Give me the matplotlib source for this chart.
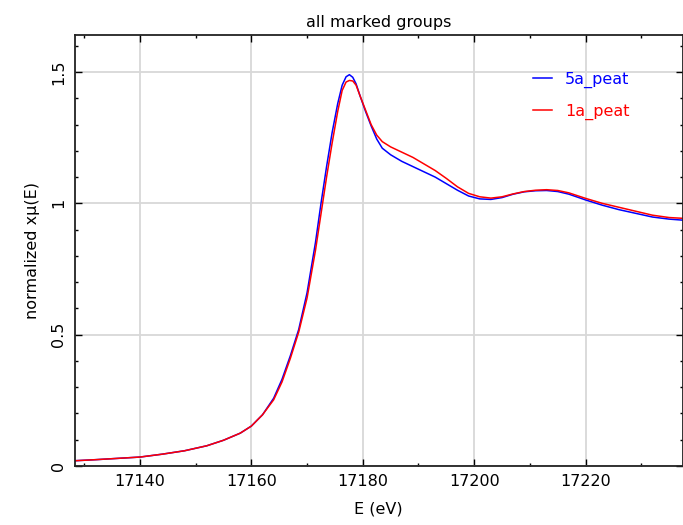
import matplotlib
matplotlib.use("Agg")
import matplotlib.pyplot as plt
from matplotlib.ticker import MultipleLocator, FixedLocator

energy = [17128.3, 17132, 17136, 17140, 17144, 17148, 17152, 17155, 17158, 17160,
          17162, 17164, 17165.5, 17167, 17168.5, 17170, 17171.5, 17172.5, 17173.5,
          17174.5, 17175.5, 17176.3, 17177, 17177.6, 17178.2, 17178.8, 17179.5,
          17180.5, 17181.5, 17182.5, 17183.5, 17185, 17187, 17189, 17191, 17193,
          17195, 17197, 17199, 17201, 17203, 17205, 17207, 17209, 17211, 17213,
          17215, 17217, 17220, 17223, 17226, 17229, 17232, 17235, 17237.5]

mu_5a = [0.020, 0.024, 0.029, 0.034, 0.045, 0.058, 0.077, 0.098, 0.125, 0.152,
         0.195, 0.258, 0.33, 0.42, 0.52, 0.66, 0.85, 1.00, 1.14,
         1.27, 1.38, 1.45, 1.482, 1.490, 1.48, 1.455, 1.41,
         1.35, 1.295, 1.245, 1.21, 1.185, 1.16, 1.14, 1.12, 1.10,
         1.075, 1.05, 1.028, 1.017, 1.015, 1.022, 1.035, 1.044, 1.048, 1.049,
         1.045, 1.035, 1.013, 0.993, 0.976, 0.962, 0.948, 0.940, 0.936]

mu_1a = [0.020, 0.024, 0.029, 0.034, 0.045, 0.058, 0.077, 0.098, 0.125, 0.152,
         0.195, 0.252, 0.32, 0.41, 0.51, 0.64, 0.82, 0.96, 1.10,
         1.23, 1.35, 1.43, 1.462, 1.468, 1.466, 1.45, 1.41,
         1.355, 1.30, 1.26, 1.235, 1.215, 1.195, 1.175, 1.15, 1.125,
         1.095, 1.063, 1.038, 1.025, 1.02, 1.025, 1.036, 1.045, 1.05, 1.052,
         1.049, 1.04, 1.019, 1.0, 0.985, 0.97, 0.955, 0.946, 0.943]

series_labels = ["5a_peat", "1a_peat"]
series_colors = ["#0000ff", "#ff0000"]
x_ticks = [17140, 17160, 17180, 17200, 17220]
y_ticks = [0, 0.5, 1, 1.5]
y_tick_labels = ["0", "0.5", "1", "1.5"]

FS = 11.5
plt.rcParams['font.family'] = ['DejaVu Sans']
fig = plt.figure(figsize=(6.83, 5.25), dpi=100)
ax = fig.add_axes([0.1095, 0.1124, 0.8898, 0.8204])

lines = []
for mu, lab, col in zip([mu_5a, mu_1a], series_labels, series_colors):
    l, = ax.plot(energy, mu, color=col, lw=1.1, label=lab)
    lines.append(l)

ax.set_xlim(17128.3, 17237.4)
ax.set_ylim(0, 1.64)
ax.xaxis.set_major_locator(FixedLocator(x_ticks))
ax.xaxis.set_minor_locator(MultipleLocator(10))
ax.yaxis.set_major_locator(FixedLocator(y_ticks))
ax.set_yticklabels(y_tick_labels, rotation=90, va='center')
ax.yaxis.set_minor_locator(MultipleLocator(0.1))
ax.tick_params(which='both', direction='in', top=True, right=True, labelsize=FS,
               colors='black', pad=6)
ax.tick_params(which='major', length=5, width=1)
ax.tick_params(which='minor', length=2.5, width=1)
ax.grid(which='major', color='#d8d8d8', lw=1.3)
ax.set_axisbelow(True)
for s in ax.spines.values():
    s.set_linewidth(1.3)
    s.set_color('#222222')

ax.set_title("all marked groups", fontsize=FS, pad=6)
ax.set_xlabel("E (eV)", fontsize=FS, labelpad=9)
ax.set_ylabel("normalized xμ(E)", fontsize=FS, labelpad=8)

leg = ax.legend(handles=lines, loc='upper left', bbox_to_anchor=(0.754, 0.916),
                frameon=False, fontsize=FS, handlelength=1.2, handletextpad=0.8,
                labelspacing=1.02, borderpad=0, borderaxespad=0)
for t, c in zip(leg.get_texts(), series_colors):
    t.set_color(c)

fig.savefig("out.png", dpi=100)
